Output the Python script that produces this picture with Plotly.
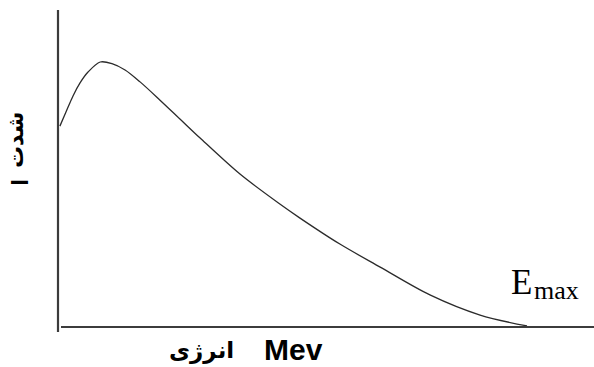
import plotly.graph_objects as go

# Energy (in units of E_max) and relative intensity of the beta spectrum
energy = [0.004, 0.017, 0.032, 0.047, 0.064, 0.090, 0.115, 0.143, 0.175,
          0.217, 0.260, 0.303, 0.388, 0.473, 0.516, 0.601, 0.687, 0.793,
          0.900, 1.000]
intensity = [0.758, 0.811, 0.872, 0.921, 0.962, 1.000, 0.994, 0.970, 0.925,
             0.857, 0.785, 0.713, 0.577, 0.464, 0.411, 0.313, 0.226, 0.121,
             0.045, 0.004]

x_label_fa = "انرژی"
x_label_unit = "Mev"
y_label_fa = "شدت"
y_label_sym = "I"
end_label = "E"
end_sub = "max"

W, H = 594, 367
ML, MR, MT, MB = 58, 0, 10, 40
PW, PH = W - ML - MR, H - MT - MB


def px(x):
    return (x - ML) / PW


def py(y):
    return (H - MB - y) / PH


fig = go.Figure()
fig.add_trace(go.Scatter(
    x=energy, y=intensity, mode="lines",
    line=dict(color="#2b2b2b", width=1.3, shape="spline", smoothing=0.9),
    hoverinfo="skip", showlegend=False,
))

axis_col = "#3c3c3c"
shapes = [
    # vertical axis
    dict(type="line", xref="paper", yref="paper", x0=0, x1=0,
         y0=py(332), y1=py(10), line=dict(color=axis_col, width=2.2)),
    # horizontal axis
    dict(type="line", xref="paper", yref="paper", x0=px(61), x1=1,
         y0=py(327), y1=py(327), line=dict(color=axis_col, width=2.2)),
]

ann = [
    dict(text="<b>" + x_label_fa + "</b>", x=px(201), y=py(350),
         font=dict(size=23, family="DejaVu Sans", color="black")),
    dict(text="<b>" + x_label_unit + "</b>", x=px(293), y=py(349),
         font=dict(size=30, family="Liberation Sans, Arial", color="black")),
    dict(text="<b>" + y_label_fa + "</b>", x=px(15), y=py(140), textangle=-90,
         font=dict(size=22, family="DejaVu Sans", color="black")),
    dict(text="<b>" + y_label_sym + "</b>", x=px(19.5), y=py(183), textangle=-90,
         font=dict(size=23, family="Liberation Sans, Arial", color="black")),
    dict(text=end_label, x=px(521), y=py(282),
         font=dict(size=35, family="Liberation Serif, Times New Roman", color="black")),
    dict(text=end_sub, x=px(556), y=py(290),
         font=dict(size=26, family="Liberation Serif, Times New Roman", color="black")),
]
for a in ann:
    a.update(xref="paper", yref="paper", showarrow=False,
             xanchor="center", yanchor="middle")

fig.update_layout(
    width=W, height=H,
    margin=dict(l=ML, r=MR, t=MT, b=MB),
    paper_bgcolor="white", plot_bgcolor="white",
    xaxis=dict(range=[0, PW / 469], visible=False, fixedrange=True),
    yaxis=dict(range=[0, PH / 265], visible=False, fixedrange=True),
    shapes=shapes, annotations=ann,
)

fig.write_html("out.html", config={"displayModeBar": False})
